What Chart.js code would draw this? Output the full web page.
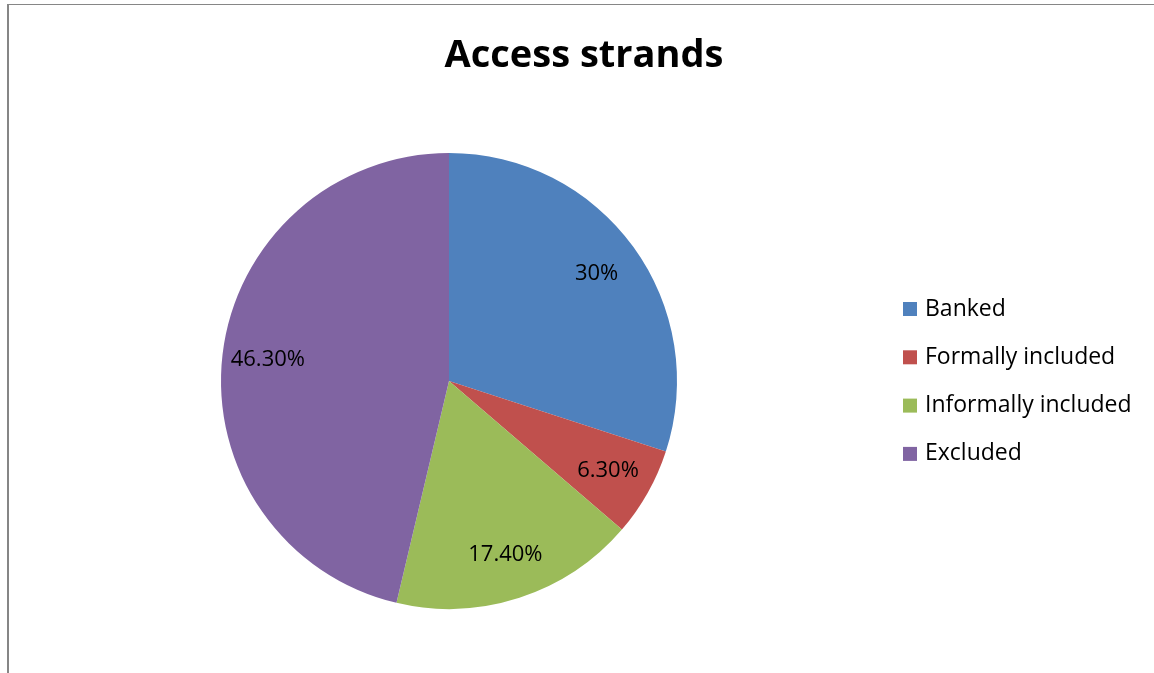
<!DOCTYPE html>
<html>
<head>
<meta charset="utf-8">
<script src="https://cdn.jsdelivr.net/npm/chart.js@4.4.0/dist/chart.umd.min.js"></script>
<style>
  html, body { margin: 0; padding: 0; background: #fff; }
  #wrap { position: relative; width: 1154px; height: 673px; }
  #frame { position: absolute; left: 7px; top: 4px; right: -2px; bottom: -2px;
           border-left: 2px solid #868686; border-top: 1px solid #868686; }
</style>
</head>
<body>
<div id="wrap">
  <div id="frame"></div>
  <canvas id="pieChart" width="1154" height="673"></canvas>
</div>
<script>
const titleText = 'Access strands';
const categories = ['Banked', 'Formally included', 'Informally included', 'Excluded'];
const shares = [30, 6.3, 17.4, 46.3];
const shareLabels = ['30%', '6.30%', '17.40%', '46.30%'];
const sliceColors = ['#4F81BD', '#C0504D', '#9BBB59', '#8064A2'];

const fontFamily = '"Open Sans", Lato, sans-serif';

// slice labels at ~80% of the radius
const sliceLabels = {
    id: 'sliceLabels',
    afterDatasetsDraw(chart) {
        const ctx = chart.ctx;
        const meta = chart.getDatasetMeta(0);
        ctx.save();
        ctx.font = '22px ' + fontFamily;
        ctx.fillStyle = '#000';
        ctx.textAlign = 'center';
        ctx.textBaseline = 'middle';
        meta.data.forEach((arc, i) => {
            const p = arc.getProps(['x', 'y', 'startAngle', 'endAngle', 'outerRadius'], true);
            const mid = (p.startAngle + p.endAngle) / 2;
            const r = p.outerRadius * 0.8;
            ctx.fillText(shareLabels[i], p.x + Math.cos(mid) * r, p.y + Math.sin(mid) * r);
        });
        ctx.restore();
    }
};

// title and legend drawn at fixed spots
const extras = {
    id: 'extras',
    afterDraw(chart) {
        const ctx = chart.ctx;
        ctx.save();
        ctx.fillStyle = '#000';
        ctx.font = 'bold 38px ' + fontFamily;
        ctx.textAlign = 'center';
        ctx.textBaseline = 'middle';
        ctx.fillText(titleText, 584, 56);

        ctx.font = '23px ' + fontFamily;
        ctx.textAlign = 'left';
        categories.forEach((name, i) => {
            const y = 309 + i * 48.3;
            ctx.fillStyle = sliceColors[i];
            ctx.fillRect(903, y - 7, 14, 14);
            ctx.fillStyle = '#000';
            ctx.fillText(name, 925, y);
        });
        ctx.restore();
    }
};

const ctx = document.getElementById('pieChart').getContext('2d');
const chart = new Chart(ctx, {
    type: 'pie',
    data: {
        labels: categories,
        datasets: [{
            data: shares,
            backgroundColor: sliceColors,
            borderWidth: 0
        }]
    },
    options: {
        responsive: false,
        animation: false,
        layout: { padding: { left: 221, right: 477, top: 153, bottom: 64 } },
        plugins: {
            legend: { display: false },
            title: { display: false },
            tooltip: { enabled: false }
        }
    },
    plugins: [sliceLabels, extras]
});
</script>
</body>
</html>
